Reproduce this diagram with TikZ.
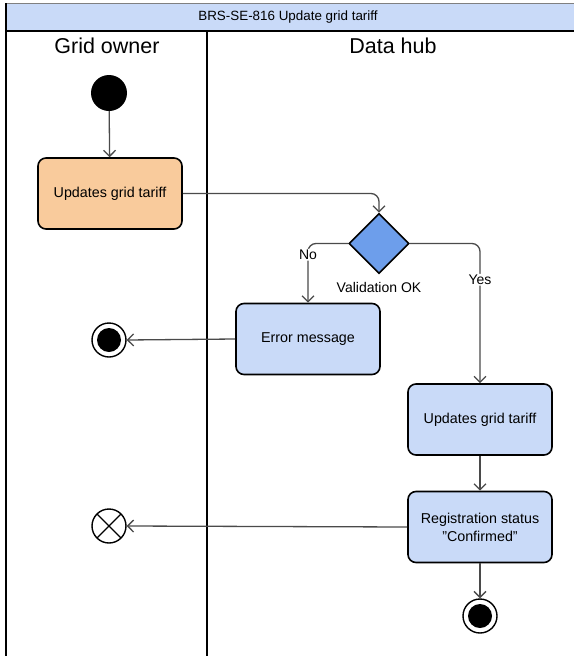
\documentclass[tikz,border=0pt]{standalone}
\usepackage{fontspec}
\setmainfont{Liberation Sans}
\usetikzlibrary{arrows.meta}
\usetikzlibrary{shapes.geometric}
\usetikzlibrary{positioning}
\definecolor{titleblue}{HTML}{C9DAF8}
\definecolor{actblue}{HTML}{C9DAF8}
\definecolor{actorange}{HTML}{F9CB9C}
\definecolor{decblue}{HTML}{6D9EEB}
\definecolor{flowgray}{HTML}{4A4A4A}

\begin{document}
\begin{tikzpicture}[x=1pt, y=-1pt,
  act/.style={draw, line width=1.6pt, rounded corners=8pt, minimum width=144pt, minimum height=71pt, align=center, font=\fontsize{14.3}{18}\selectfont},
  flow/.style={draw=flowgray, line width=1.3pt, rounded corners=8pt, -{Straight Barb[length=6pt,width=12pt]}},
  initial/.style={circle, fill=black, minimum size=36pt, inner sep=0},
  final/.style={circle, draw, line width=1.4pt, minimum size=34pt, inner sep=0, path picture={\fill (path picture bounding box.center) circle (12pt);}},
  flowend/.style={circle, draw, line width=1.4pt, minimum size=34pt, inner sep=0, path picture={\draw[line width=1.4pt] (path picture bounding box.north west)--(path picture bounding box.south east) (path picture bounding box.north east)--(path picture bounding box.south west);}},
  lbl/.style={fill=white, inner sep=1pt, font=\fontsize{14}{16}\selectfont}]
\useasboundingbox (0,0) rectangle (574,656);
% pool and lanes
\fill[titleblue] (6,3) rectangle (574,31);
\draw[gray, line width=1pt] (6,3)--(574,3);
\node[font=\fontsize{13.4}{15}\selectfont] (title) at (288,17) {BRS-SE-816 Update grid tariff};
\draw[black, line width=1.6pt] (6,31)--(574,31);
\draw[black, line width=1.6pt] (6,3)--(6,656);
\draw[black, line width=1.6pt] (207,31)--(207,656);
\foreach \name/\x in {Grid owner/107, Data hub/393} {
 \node[font=\fontsize{21.5}{24}\selectfont] at (\x,46) {\name};
}
% nodes
\node[initial] (start) at (109,93) {};
\node[act, fill=actorange] (upd1) at (110,193.5) {Updates grid tariff};
\node[diamond, draw, line width=1.6pt, fill=decblue, minimum width=60pt, minimum height=60pt, inner sep=0] (valid) at (379,243.5) {};
\node[lbl, fill=none] (validlbl) at (379,287) {Validation OK};
\node[act, fill=actblue] (err) at (308,339) {Error message};
\node[final] (end1) at (109,340) {};
\node[act, fill=actblue] (upd2) at (480,419.5) {Updates grid tariff};
\node[act, fill=actblue] (reg) at (480,527) {Registration status\\"Confirmed"};
\node[flowend] (stop) at (109,526) {};
\node[final] (end2) at (480,616) {};
% connectors
\draw[flow] (start)--(upd1);
\draw[flow] (upd1.east) -| (valid.north);
\draw[flow] (valid.west) -| (err.north) node[lbl, pos=0.595] {No};
\draw[flow] (valid.east) -| (upd2.north) node[lbl, pos=0.63] {Yes};
\draw[flow] (err.west)--(end1.east);
\draw[flow] (upd2)--(reg);
\draw[flow] (reg.west)--(stop.east);
\draw[flow] (reg)--(end2);
\end{tikzpicture}
\end{document}
